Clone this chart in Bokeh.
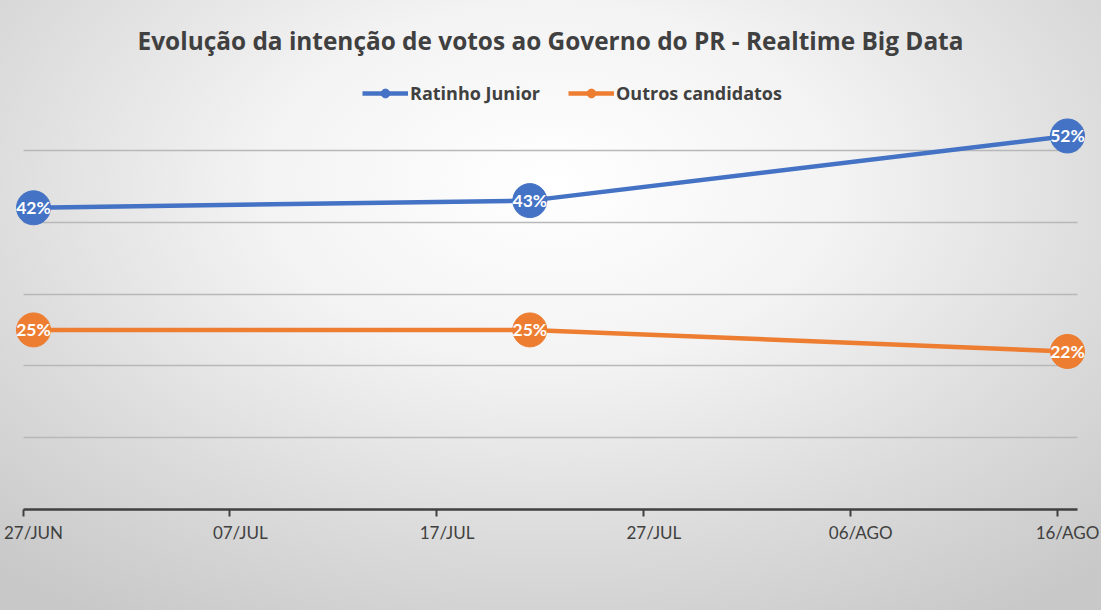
import pandas as pd
from bokeh.plotting import figure
from bokeh.models import Range1d, FixedTicker, LinearAxis, Legend, LegendItem, ColumnDataSource
from bokeh.core.properties import value
from bokeh.embed import file_html
from bokeh.resources import INLINE

# ---- data ----
start_date = "2018-06-27"
dates = ["2018-06-27", "2018-07-21", "2018-08-16"]
ratinho = [42, 43, 52]
outros = [25, 25, 22]
tick_days = [0, 10, 20, 30, 40, 50]
tick_labels = ["27/JUN", "07/JUL", "17/JUL", "27/JUL", "06/AGO", "16/AGO"]
y_ticks = [10, 20, 30, 40, 50, 60]
title_text = "Evolução da intenção de votos ao Governo do PR - Realtime Big Data"

BLUE = "#4472C4"
ORANGE = "#ED7D31"
TXT = "#404040"
FONT = "Lato"
BFONT = "Open Sans"

days = [(pd.Timestamp(d) - pd.Timestamp(start_date)).days + 0.5 for d in dates]

p = figure(width=1101, height=610, output_backend="svg", toolbar_location=None,
           x_range=Range1d(-1, 52), y_range=Range1d(0, 60),
           min_border_left=2, min_border_right=3, min_border_top=77, min_border_bottom=101)

p.background_fill_alpha = 0
p.border_fill_alpha = 0
p.outline_line_color = None
p.styles = {"background": "radial-gradient(ellipse 75% 85% at 50% 30%, #ffffff 0%, #f3f3f3 35%, #dbdbdb 70%, #c8c8c8 100%)"}

p.title.text = title_text
p.title.align = "center"
p.title.text_font = BFONT
p.title.text_font_style = "bold"
p.title.text_font_size = "24.4px"
p.title.text_color = TXT
p.title.standoff = 43

# axes
p.yaxis.visible = False
p.xaxis.visible = False
p.xgrid.visible = False
p.ygrid.ticker = FixedTicker(ticks=y_ticks)
p.ygrid.grid_line_color = "#b8b8b8"
p.ygrid.grid_line_width = 1.5
p.ygrid.cross_bounds = (tick_days[0], tick_days[-1] + 1)

lab_ticks = [t + 0.5 for t in tick_days]
ax = LinearAxis(ticker=FixedTicker(ticks=lab_ticks, minor_ticks=tick_days),
                major_label_overrides={t: l for t, l in zip(lab_ticks, tick_labels)})
ax.bounds = (tick_days[0], tick_days[-1] + 1)
ax.axis_line_color = TXT
ax.axis_line_width = 2.5
ax.major_tick_line_color = None
ax.major_tick_out = 0
ax.major_tick_in = 0
ax.minor_tick_line_color = TXT
ax.minor_tick_line_width = 2
ax.minor_tick_out = 7
ax.minor_tick_in = 0
ax.major_label_text_font = FONT
ax.major_label_text_font_size = "17px"
ax.major_label_text_color = TXT
ax.major_label_standoff = 5
p.add_layout(ax, "below")

items = []
for name, vals, col in [("Ratinho Junior", ratinho, BLUE), ("Outros candidatos", outros, ORANGE)]:
    src = ColumnDataSource(dict(x=days, y=vals, t=[f"{v}%" for v in vals]))
    ln = p.line("x", "y", source=src, line_color=col, line_width=4.5)
    sc = p.scatter("x", "y", source=src, size=34, fill_color=col, line_color=col)
    p.text("x", "y", text="t", source=src, text_color="white", text_font=value(FONT),
           text_font_style="bold", text_font_size="17.5px", text_align="center", text_baseline="middle")
    items.append(LegendItem(label=name, renderers=[ln, sc]))

legend = Legend(items=items, orientation="horizontal", location=(360, 404))
legend.background_fill_alpha = 0
legend.border_line_color = None
legend.label_text_font = BFONT
legend.label_text_font_style = "bold"
legend.label_text_font_size = "18px"
legend.label_text_color = TXT
legend.glyph_width = 46
legend.glyph_height = 22
legend.label_standoff = 2
legend.spacing = 28
legend.padding = 0
legend.margin = 0
p.add_layout(legend, "center")

open("out.html", "w").write(file_html(p, INLINE))
